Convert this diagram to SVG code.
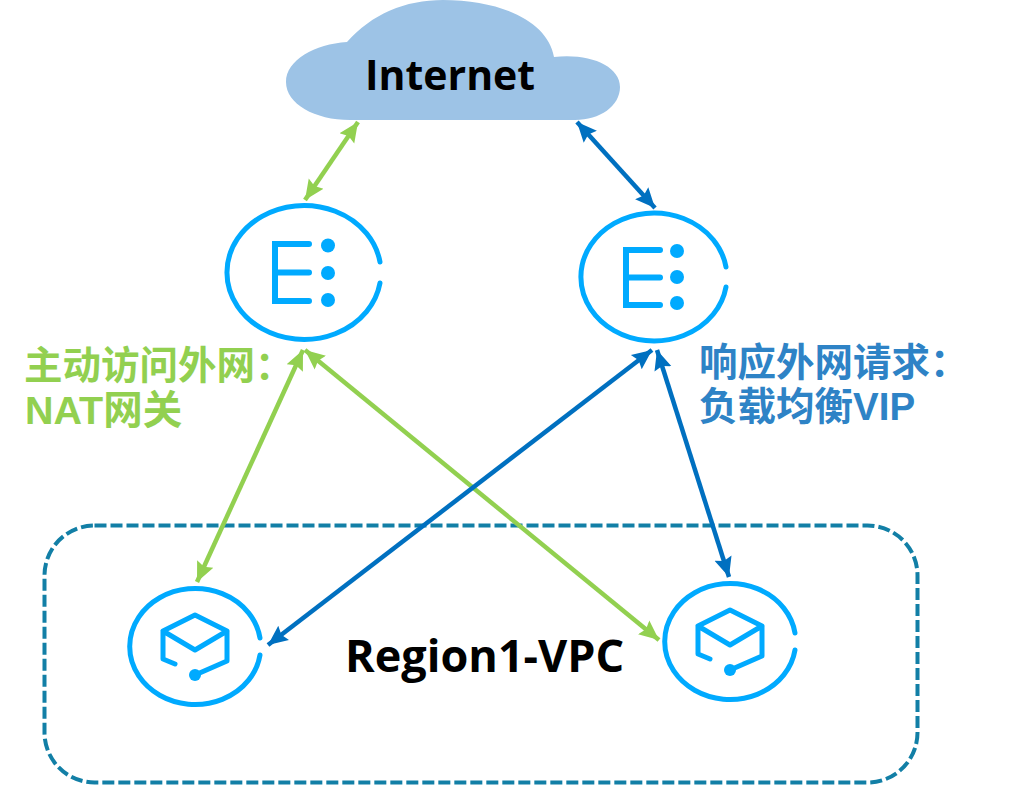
<svg xmlns="http://www.w3.org/2000/svg" width="1019" height="785" viewBox="0 0 1019 785">
<style>
.ic{fill:none;stroke:#00aaff;stroke-width:5;stroke-linecap:round;stroke-linejoin:round}
.ig{fill:none;stroke:#00aaff;stroke-width:6;stroke-linecap:round;stroke-linejoin:miter}
.dot{fill:#00aaff}
.g{stroke:#92d050;stroke-width:4.500;fill:none;marker-start:url(#ga);marker-end:url(#ga)}
.b{stroke:#0070c0;stroke-width:4.500;fill:none;marker-start:url(#ba);marker-end:url(#ba)}
.t{font-family:"Open Sans","Noto Sans",sans-serif;font-weight:700;fill:#000}
.c{font-family:"Liberation Sans","Noto Sans CJK SC",sans-serif;font-weight:700;font-size:38.500px}
</style>
<defs>
<marker id="ga" viewBox="0 0 10 10" refX="10" refY="5" markerWidth="4.400" markerHeight="4.400" orient="auto-start-reverse"><path d="M0 0.500L10 5L0 9.500L1.500 5z" fill="#92d050"/></marker>
<marker id="ba" viewBox="0 0 10 10" refX="10" refY="5" markerWidth="4.400" markerHeight="4.400" orient="auto-start-reverse"><path d="M0 0.500L10 5L0 9.500L1.500 5z" fill="#0070c0"/></marker>
<g id="vm"><path class="ic" d="M260 638A65.500 58 0 1 0 260 655"/><path class="ic" d="M195 615L163 631L195 650L227 631ZM163 631V659L175 664M227 631V661L195 675"/><circle class="dot" cx="195" cy="675" r="6"/></g>
</defs>
<g id="vpc"><rect x="44.500" y="525.500" width="873" height="257" rx="50" fill="none" stroke="#127fa6" stroke-width="4" stroke-dasharray="12 4"/><text class="t" x="345" y="672" font-size="45">Region1-VPC</text></g>
<g id="internet"><path fill="#9dc3e6" d="M347 42C372 14 405 0 443 0C502 0 548 22 554 57C590 53 620 66 620 87C620 106 600 120 575 120H350C315 120 286 104 286 82C286 60 315 44 347 42Z"/><text class="t" x="365" y="90" font-size="41">Internet</text></g>
<g id="connectors">
<path class="g" d="M358 122L305 200"/>
<path class="b" d="M577 122L655 208"/>
<path class="g" d="M303 350L197 582"/>
<path class="g" d="M305 350L659 640"/>
<path class="b" d="M652 350L268 645"/>
<path class="b" d="M657 350L729 577"/>
</g>
<g id="eip1"><path class="ic" d="M380 262A77 67 0 1 0 380 283"/><path class="ig" d="M309 244H275V301H309M275 272.500H309"/><circle class="dot" cx="328" cy="245.500" r="7"/><circle class="dot" cx="328" cy="273" r="7"/><circle class="dot" cx="328" cy="300" r="7"/></g>
<g id="eip2"><path class="ic" d="M726 267A73 64 0 1 0 726 287"/><path class="ig" d="M660 250H626V305H660M626 277.500H660"/><circle class="dot" cx="677" cy="251" r="7"/><circle class="dot" cx="677" cy="277" r="7"/><circle class="dot" cx="677" cy="303" r="7"/></g>
<g id="vm1"><use href="#vm"/></g>
<g id="vm2"><use href="#vm" x="535" y="-5"/></g>
<g id="label-nat"><text class="c" fill="#92d050"><tspan x="24" y="379">主动访问外网：</tspan><tspan x="25" y="424" font-size="39.500">NAT网关</tspan></text></g>
<g id="label-vip"><text class="c" fill="#2e83c6"><tspan x="699" y="376">响应外网请求：</tspan><tspan x="699" y="420">负载均衡VIP</tspan></text></g>
</svg>
